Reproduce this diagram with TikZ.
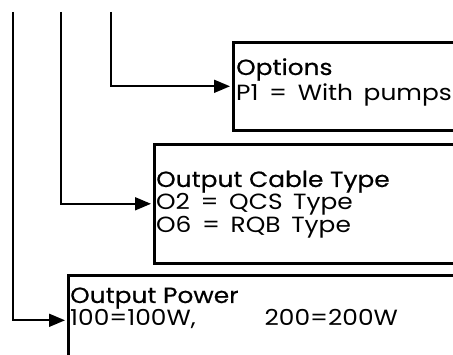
\documentclass[tikz,border=0pt]{standalone}
\usepackage{fontspec}
\setmainfont{Poppins}[FakeStretch=1.13, WordSpace=1.6]
\newfontfamily\headfont{Poppins}[FakeStretch=1.13, FakeBold=0.5]
\usetikzlibrary{positioning,arrows.meta}

\begin{document}
\begin{tikzpicture}[
      x=1pt, y=-1pt,
      font=\fontsize{22}{26}\selectfont,
      box/.style={draw=black, line width=2.6pt, anchor=north west, inner sep=0pt},
      arr/.style={-{Triangle[length=16pt,width=13pt]}, line width=1.8pt, shorten >=2pt},
      txt/.style={anchor=base west, inner sep=0pt},
      head/.style={txt, font=\fontsize{22}{26}\headfont}
    ]
    \useasboundingbox (0,0) rectangle (453,355);
    \clip (0,0) rectangle (453,355);
    % ------------- Boxes -------------
    \node[box, minimum width=300pt, minimum height=88pt] (opt) at (232,41) {};
    \node[box, minimum width=400pt, minimum height=119pt] (cab) at (153,143) {};
    \node[box, minimum width=450pt, minimum height=90pt] (pow) at (67,274) {};
    % ------------- Texts -------------
    \node[head] (opthead) at (236,75) {Options};
    \node[txt] (optp1) at (236,101) {P1 = With pumps};
    \node[head] (cabhead) at (156,187) {Output Cable Type};
    \node[txt] (cabo2) at (156,210) {O2 = QCS Type};
    \node[txt] (cabo6) at (156,233) {O6 = RQB Type};
    \node[head] (powhead) at (70,303) {Output Power};
    \node[txt] (powval) at (70,326) {100=100W,\hspace{69pt}200=200W};
    % ------------- Connectors -------------
    \coordinate (top1) at (13,12);
    \coordinate (top2) at (61,12);
    \coordinate (top3) at (111,12);
    \draw[arr] (top3) |- (opt);
    \draw[arr] (top2) |- (cab);
    \draw[arr] (top1) |- (pow);
  \end{tikzpicture}
\end{document}
